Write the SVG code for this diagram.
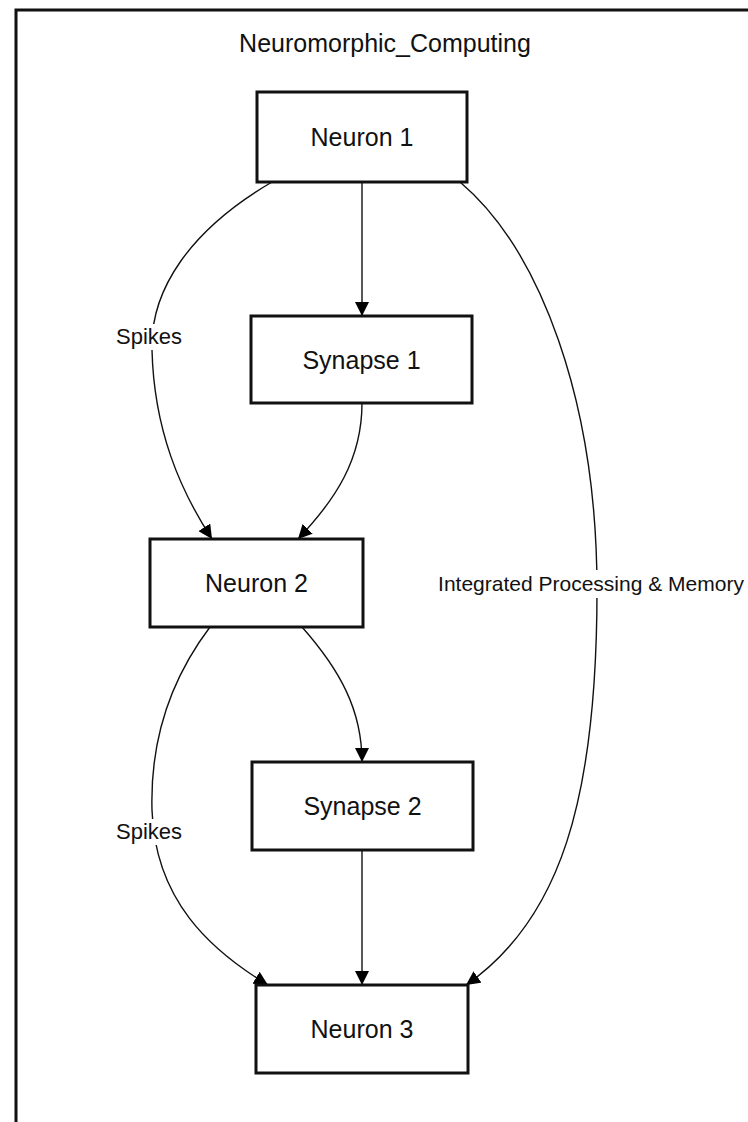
<svg xmlns="http://www.w3.org/2000/svg" width="748" height="1122" viewBox="0 0 748 1122">
  <defs>
    <marker id="arrow" markerUnits="userSpaceOnUse" markerWidth="14" markerHeight="14" viewBox="0 0 14 14" refX="14" refY="7" orient="auto">
      <path d="M0,0 L14,7 L0,14 z" fill="#000"/>
    </marker>
    <style>
      .frame { fill: #fff; stroke: #111; stroke-width: 3; }
      .node rect { fill: #fff; stroke: #111; stroke-width: 3; }
      .node text { font-family: "Liberation Sans", Arial, sans-serif; font-size: 25px; fill: #111; text-anchor: middle; }
      .edge { fill: none; stroke: #111; stroke-width: 1.4; marker-end: url(#arrow); }
      .lbl-bg { fill: #fff; }
      .lbl { font-family: "Liberation Sans", Arial, sans-serif; font-size: 22px; fill: #111; text-anchor: middle; }
      .title { font-family: "Liberation Sans", Arial, sans-serif; font-size: 25px; fill: #111; text-anchor: middle; }
    </style>
  </defs>

  <rect width="748" height="1122" fill="#fff"/>
  <rect class="frame" x="16" y="10" width="770" height="1140"/>
  <text class="title" x="385" y="52">Neuromorphic_Computing</text>

  <g id="connectors">
    <path class="edge" d="M362,182 L362,316"/>
    <path class="edge" d="M272,182 C190,230 150,290 152,350 C154,430 180,490 212,539"/>
    <path class="edge" d="M362,403 C362,460 335,500 298,539"/>
    <path class="edge" d="M460,182 C540,250 597,400 597,590 C597,800 560,920 466,985"/>
    <path class="edge" d="M302,627 C340,670 362,710 362,762"/>
    <path class="edge" d="M210,627 C170,680 150,740 152,810 C155,900 210,950 268,985"/>
    <path class="edge" d="M362,850 L362,985"/>

    <rect class="lbl-bg" x="113" y="324" width="72" height="26"/>
    <text class="lbl" x="149" y="344">Spikes</text>
    <rect class="lbl-bg" x="113" y="819" width="72" height="26"/>
    <text class="lbl" x="149" y="839">Spikes</text>
    <rect class="lbl-bg" x="432" y="570" width="316" height="28"/>
    <text class="lbl" x="591" y="591" style="font-size:21px">Integrated Processing &amp; Memory</text>
  </g>

  <g id="neuron1" class="node">
    <rect x="257" y="92" width="210" height="90"/>
    <text x="362" y="146">Neuron 1</text>
  </g>
  <g id="synapse1" class="node">
    <rect x="251" y="316" width="221" height="87"/>
    <text x="361.5" y="369">Synapse 1</text>
  </g>
  <g id="neuron2" class="node">
    <rect x="150" y="539" width="213" height="88"/>
    <text x="256.5" y="592">Neuron 2</text>
  </g>
  <g id="synapse2" class="node">
    <rect x="252" y="762" width="221" height="88"/>
    <text x="362.5" y="815">Synapse 2</text>
  </g>
  <g id="neuron3" class="node">
    <rect x="256" y="985" width="212" height="88"/>
    <text x="362" y="1038">Neuron 3</text>
  </g>
</svg>
